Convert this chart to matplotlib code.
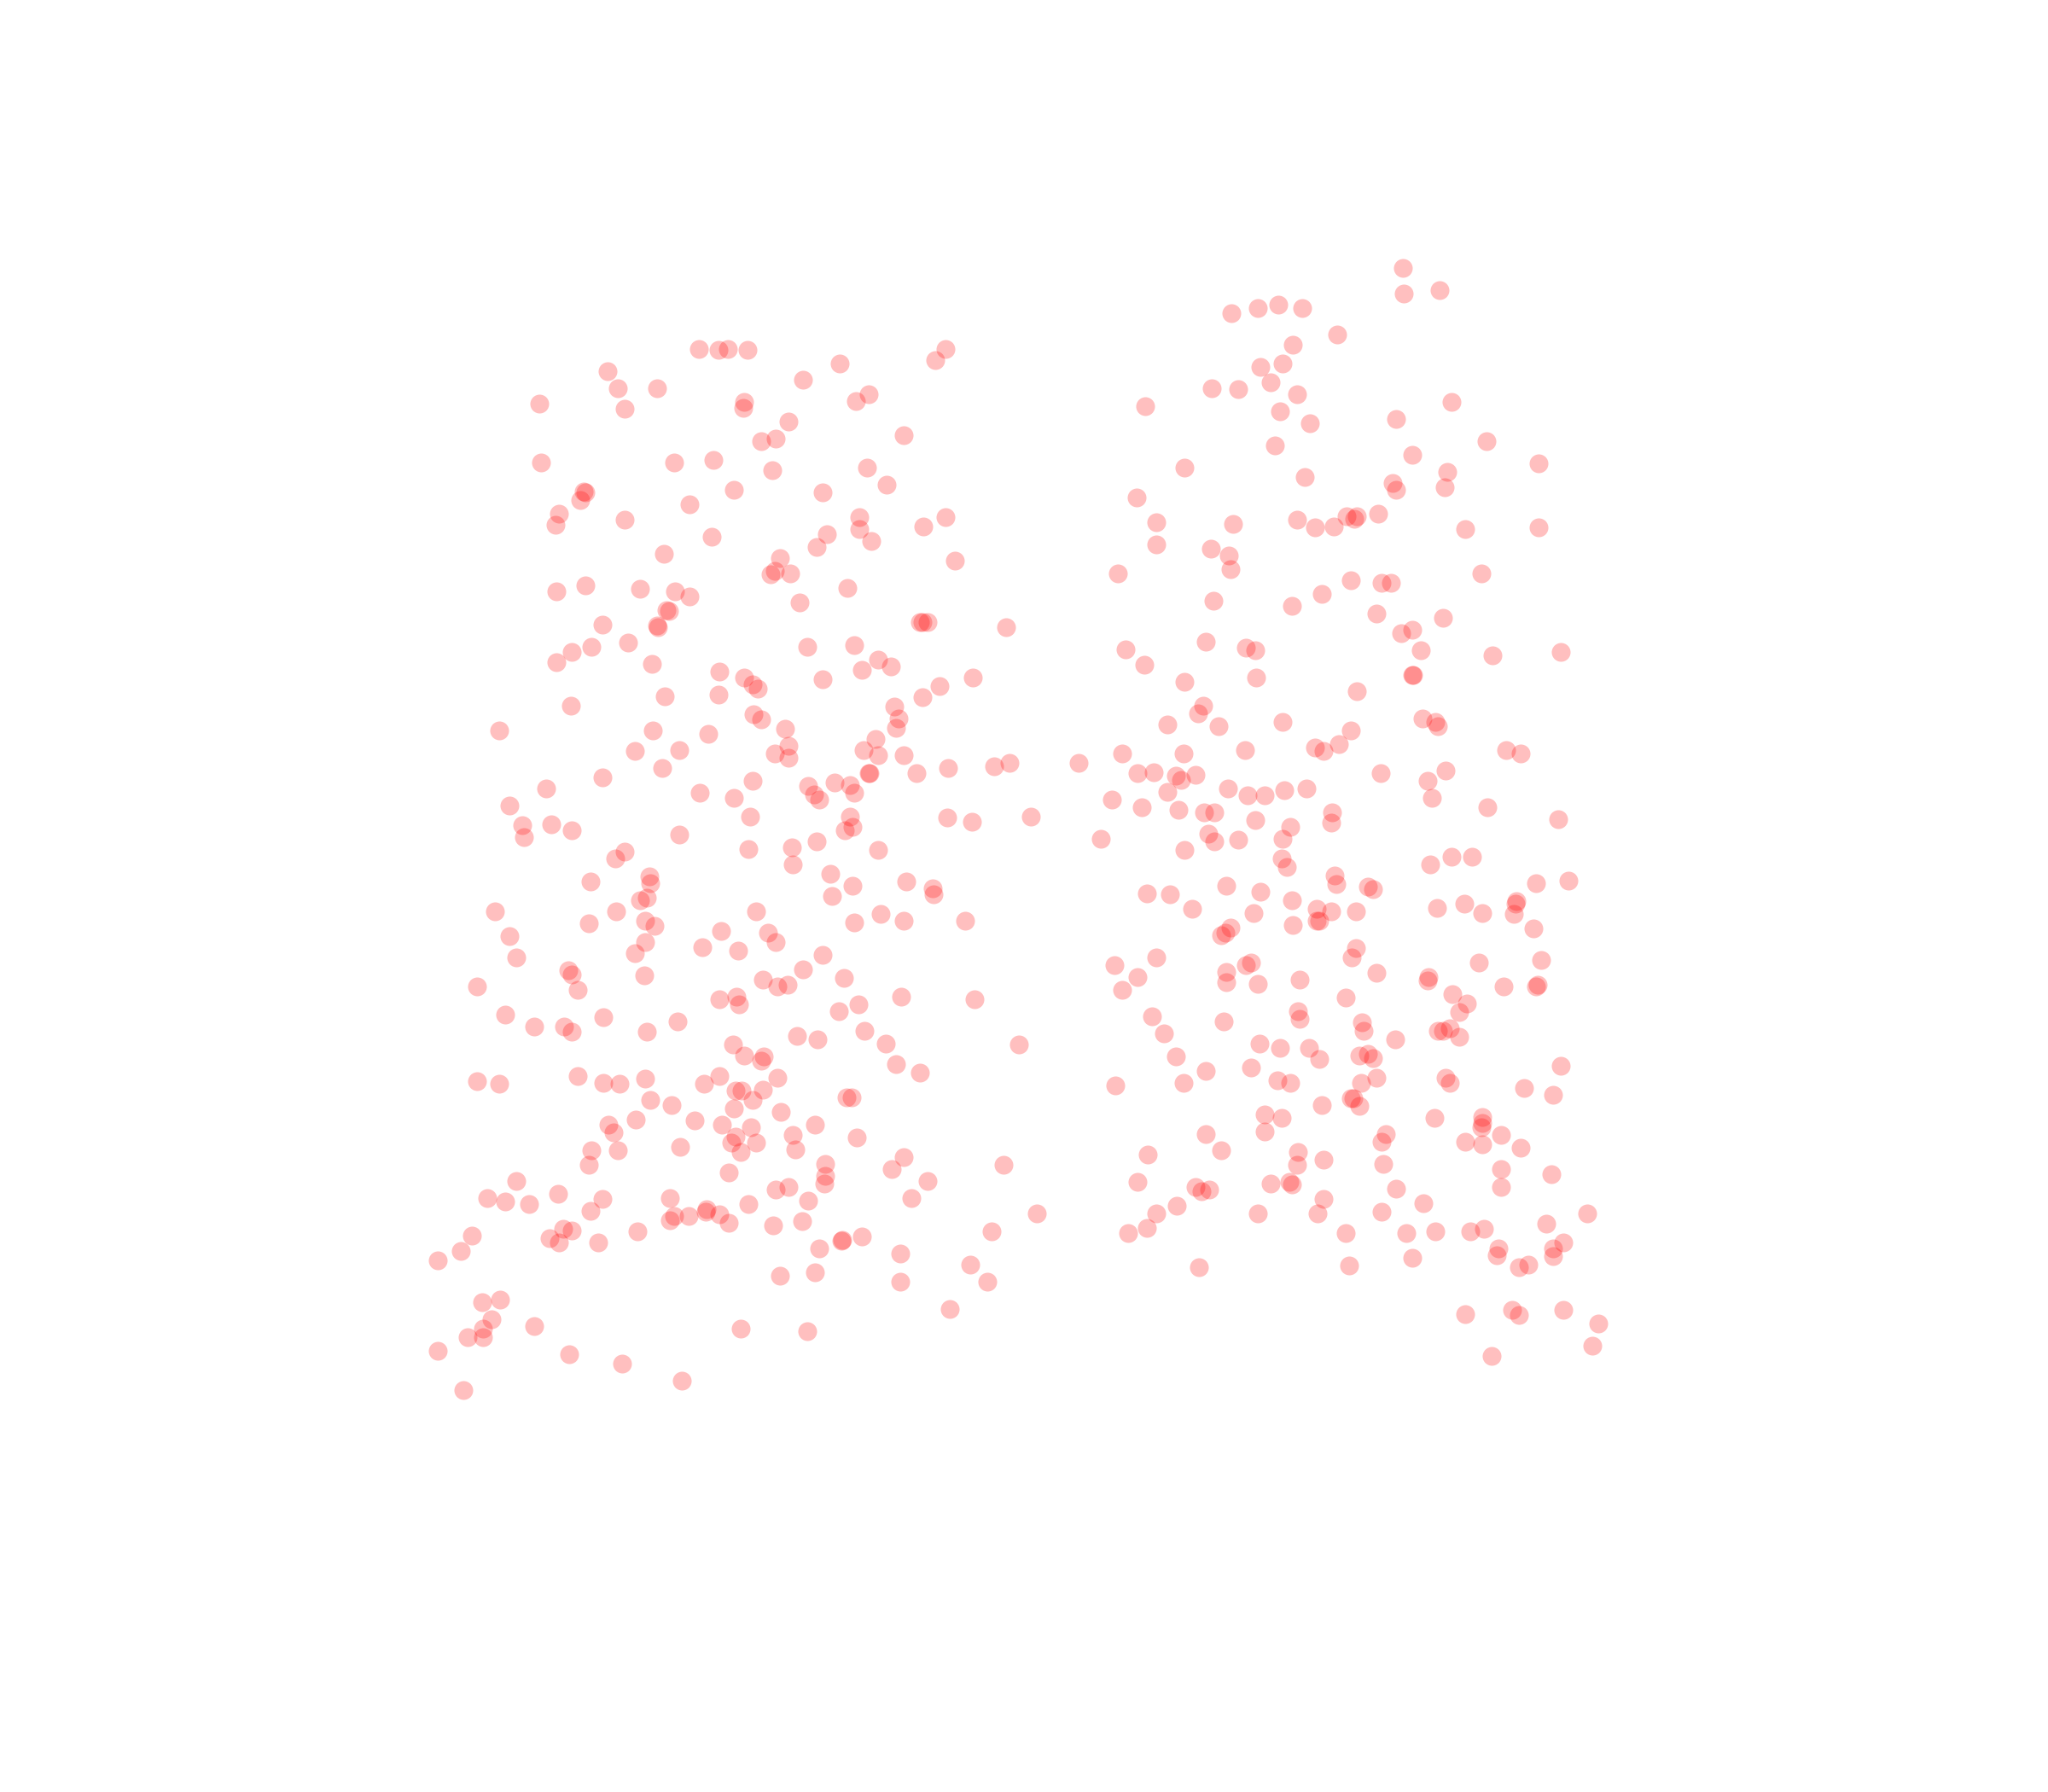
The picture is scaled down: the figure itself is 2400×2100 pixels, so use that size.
import matplotlib
matplotlib.use('Agg')
from matplotlib import pyplot as plt

# left and right clouds
x_left = [535,550,557,572,724,716,643,465,615,473,503,665,655,570,569,413,478,604,692,583,594,546,516,414,591,664,679,562,630,447,448,444,528,428,425,478,658,724,707,658,633,545,667,625,508,731,597,593,590,605,448,426,490,517,528,649,612,510,512,461,503,504,704,706,710,770,481,453,438,426,618,654,499,672,682,660,551,570,576,580,630,745,719,706,509,550,437,685,688,686,577,583,601,382,500,542,670,604,661,672,692,593,604,486,520,507,461,665,666,702,726,761,773,576,639,619,651,623,627,654,418,536,562,390,574,651,725,744,789,400,422,438,401,520,647,653,625,573,606,478,471,672,607,636,497,498,452,694,653,714,715,637,495,490,379,472,579,674,692,654,739,494,501,451,552,588,390,494,594,538,565,486,630,395,615,435,438,493,584,646,595,603,365,442,551,564,566,690,746,657,642,387,462,519,409,432,438,495,662,610,626,678,780,561,570,585,583,686,704,442,551,595,365,382,462,474,494,539,584,563,568,648,652,498,514,576,562,598,487,532,466,470,553,575,624,563,560,579,607,656,521,453,473,567,609,692,451,632,768,683,558,632,631,710,395,604,594,373,387,405,427,461,513,619,698,573,452,541,540,527,551,516,513,558,794,614,592,431,438,488,361,421,428,458,759,644,645,660,627,353,335,689,743,624,597,689,756,369,383,727,376,409,370,358,370,567,618,335,436,476,522,355]
y_left = [267,268,267,268,267,276,278,284,291,297,297,302,307,308,312,309,313,323,333,338,336,352,354,354,360,358,371,375,377,376,377,383,386,393,402,398,396,396,403,405,409,411,414,419,424,429,427,437,440,439,448,453,451,453,457,450,461,467,468,478,479,480,476,476,476,480,492,495,499,507,495,494,508,505,510,513,514,519,524,527,520,519,525,534,533,532,540,541,550,557,547,551,558,559,559,562,566,571,574,578,578,577,580,575,574,588,595,592,592,592,588,587,584,598,599,602,601,608,612,607,604,607,611,617,625,625,626,629,625,632,631,636,641,639,636,633,644,650,649,652,657,651,662,669,671,676,675,675,678,680,685,686,687,689,698,698,698,700,705,706,705,705,709,707,713,714,717,721,721,725,728,730,731,733,742,743,746,747,750,749,755,754,755,758,765,763,769,763,765,769,774,777,779,782,786,786,790,790,789,793,796,799,800,800,808,809,812,815,821,824,824,825,828,830,829,830,826,830,834,835,835,840,840,842,846,842,849,851,857,858,861,867,861,863,861,870,875,875,869,871,878,881,881,882,880,886,892,891,892,895,898,900,906,904,904,909,911,917,920,922,914,918,917,919,917,922,927,926,928,931,930,931,934,936,929,935,938,941,942,943,946,948,951,951,943,950,949,947,956,958,965,960,968,974,977,981,981,997,995,1002,1010,1015,1017,1024,1024,1017,1019,1034,1037,1044,1057,1064]

x_right = [1074,1102,1075,943,963,979,997,1024,990,982,965,973,928,948,993,877,980,1003,1111,1069,1138,976,1081,907,1178,1108,999,1066,1069,1106,870,1031,1039,1037,1055,993,1007,1021,885,944,1122,1178,885,927,941,942,856,1134,1034,1058,1065,1012,929,989,1054,1105,1073,1081,923,954,961,862,1088,1143,1195,876,907,962,1081,1082,1039,921,917,894,933,982,1089,1099,1101,1034,1007,1013,1025,953,859,906,1153,1164,826,871,883,900,904,915,1057,1107,1093,894,940,955,968,983,1000,851,874,902,922,930,1096,1139,1193,1020,1019,961,988,925,930,948,982,843,907,981,985,1095,1111,1127,1022,1023,1047,1051,939,965,878,896,1176,1201,913,989,1019,1008,1038,960,1100,1121,1135,1161,1160,1159,990,1008,1010,942,938,935,1174,1038,1035,885,853,958,954,939,1054,1132,1180,871,859,939,963,995,1094,1093,1151,1177,1176,1112,1030,1123,994,995,1117,882,937,1043,1044,1101,1105,1110,1117,891,1068,964,980,1002,900,1010,1041,1047,1051,1195,958,923,1054,1042,1107,1110,978,988,906,854,1167,1189,1034,1036,1041,1012,968,981,1098,1135,1135,1134,923,968,1061,1058,1149,1122,1135,1164,935,879,994,1013,993,1059,1149,1188,871,973,987,989,915,920,926,1069,1149,1013,1090,901,885,963,1009,1058,1215,878,864,1030,1077,1099,1126,1136,1184,1197,1147,1146,1189,1189,1081,1163,1170,918,1033,1122,1158,1163,1197,1224,1219,1142]
y_right = [205,222,225,240,236,233,236,256,264,278,281,293,297,298,302,311,315,324,308,321,338,341,348,358,355,361,365,370,375,373,381,395,395,397,393,398,404,403,400,401,405,404,417,420,425,436,439,439,444,446,446,455,460,464,470,473,485,482,491,496,498,497,498,502,499,509,522,519,517,517,529,540,546,555,556,553,550,553,556,559,572,575,570,574,577,577,574,577,584,592,591,594,597,593,592,590,598,606,604,609,609,605,604,612,618,620,622,622,611,618,627,622,630,628,633,638,644,643,642,642,651,657,664,662,656,656,670,677,679,681,678,683,684,685,676,674,696,689,698,696,698,699,695,692,699,690,692,700,708,705,705,710,714,716,711,726,733,733,739,737,739,744,745,737,735,748,758,752,753,750,748,751,755,754,755,761,764,768,774,780,775,778,782,783,789,789,789,787,794,791,796,799,802,802,809,811,808,807,810,816,817,820,825,829,825,829,827,829,829,831,833,838,841,841,847,846,853,856,856,855,860,863,868,866,868,874,869,874,876,879,881,884,882,888,892,891,895,899,905,906,905,907,909,912,911,910,909,918,921,923,929,929,929,928,929,940,944,944,944,943,943,941,937,951,956,961,956,962,963,970,968,970,969,1006,1003,1007,1003,1013,1030,1038]

fig = plt.figure(figsize=(8, 7), dpi=300)
ax = fig.add_axes([0, 0, 1, 1])
ax.scatter(x_left + x_right, y_left + y_right, s=28, color='red', alpha=0.25, linewidths=0)
ax.set_xlim(0, 1568)
ax.set_ylim(1372, 0)
ax.axis('off')
fig.savefig('out.png', dpi=300)
